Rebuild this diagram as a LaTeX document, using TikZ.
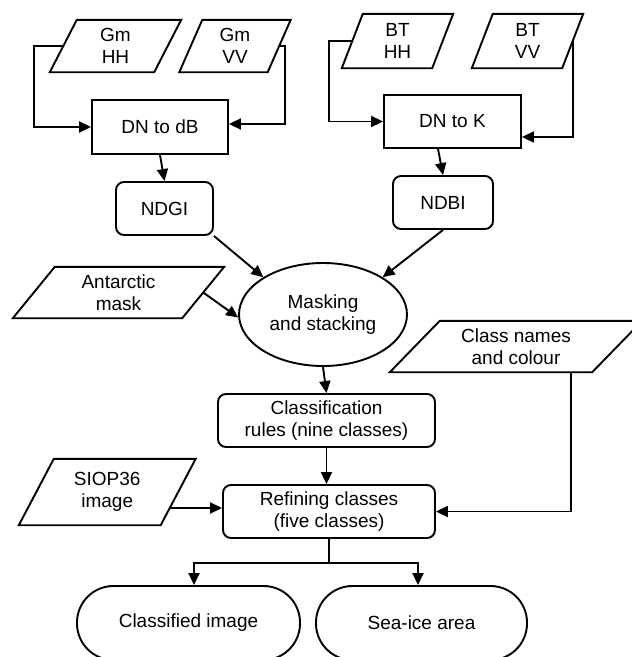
\documentclass[tikz,border=0pt]{standalone}
\usepackage{fontspec}
\setmainfont{Liberation Sans}
\usetikzlibrary{arrows.meta,shapes.geometric}
\newcommand\paranode[7]{%
  \node[minimum width=#4pt, minimum height=#5pt] (#1) at (#2,#3) {#7};
  \draw[line] ([xshift=#6pt]#1.north west) -- ([xshift=#6pt]#1.north east)
    -- ([xshift=-#6pt]#1.south east) -- ([xshift=-#6pt]#1.south west) -- cycle;}
\begin{document}
\begin{tikzpicture}[x=1pt,y=-1pt,
  every node/.style={font=\fontsize{19}{22.5}\selectfont, align=center, inner sep=0pt},
  line/.style={line width=1.9pt, line join=miter},
  arr/.style={line, -{Triangle[length=12pt,width=11pt]}},
  procbox/.style={draw, line, rectangle, minimum width=#1},
  roundbox/.style={draw, line, rectangle, rounded corners=8pt, minimum width=#1},
  stadium/.style={draw, line, rectangle, rounded corners=36.5pt, minimum width=#1, minimum height=74pt},
  oval/.style={draw, line, ellipse, minimum width=168pt, minimum height=103pt}
]
\clip (0,0) rectangle (632,657);
\fill[white] (0,0) rectangle (632,657);

% data inputs
\paranode{gmhh}{115.5}{46}{104}{52}{13.5}{Gm\\HH}
\paranode{gmvv}{235}{46}{88}{52}{11.5}{Gm\\VV}
\paranode{bthh}{397.5}{41}{90}{54}{10.5}{BT\\HH}
\paranode{btvv}{527.5}{41}{90}{54}{10.5}{BT\\VV}
\paranode{am}{118.5}{292.5}{169}{51}{21}{Antarctic\\mask}
\paranode{cn}{516}{346.5}{202}{51}{25}{Class names\\and colour}
\paranode{siop}{107.25}{492}{141.5}{66}{17.5}{SIOP36\\image}

% processes
\node[procbox=136pt, minimum height=54pt] (dndb) at (160,127) {DN to dB};
\node[procbox=137pt, minimum height=53pt] (dnk) at (452.5,121.5) {DN to K};
\node[roundbox=97pt, minimum height=53pt] (ndgi) at (164.5,208.5) {NDGI};
\node[roundbox=100pt, minimum height=53pt] (ndbi) at (443,202.5) {NDBI};
\node[oval] (ms) at (323,314.5) {Masking\\and stacking};
\node[roundbox=217pt, minimum height=53pt] (cls) at (326.5,420.5) {Classification\\rules (nine classes)};
\node[roundbox=212pt, minimum height=53pt] (ref) at (329,511.5) {Refining classes\\(five classes)};
\node[stadium=223pt] (ci) at (188.5,623) {Classified image};
\node[stadium=211pt] (sia) at (421.5,623) {Sea-ice area};

% helper coordinates
\coordinate (siopout) at (169.5,508);
\coordinate (cnout) at (571,372);

% connectors
\draw[arr] (gmhh.west) -- ++(-29.5,0) |- (dndb.west);
\draw[arr] (gmvv.east) -- ++(6,0) |- ([yshift=3pt]dndb.east);
\draw[arr] (bthh.west) -- ++(-23.5,0) |- (dnk.west);
\draw[arr] (btvv.east) |- ([yshift=-15.5pt]dnk.east);
\draw[arr] (dndb.south) -- (ndgi.north);
\draw[arr] ([xshift=-14.5pt]dnk.south) -- (ndbi.north);
\draw[arr] (ndgi.south east) -- (ms.148);
\draw[arr] (ndbi.south) -- (ms.32);
\draw[arr] (am.east) -- (ms.182);
\draw[arr] (ms.south) -- (cls.north);
\draw[arr] (cls.south) -- (cls.south |- ref.north);
\draw[arr] (siopout) -- (siopout -| ref.west);
\draw[arr] (cnout) |- (ref.east);
\draw[line] (ref.south) -- ++(0,24) coordinate (split);
\draw[arr] (split) -| ([xshift=5.5pt]ci.north);
\draw[arr] (split) -| ([xshift=-3.5pt]sia.north);
\end{tikzpicture}
\end{document}
